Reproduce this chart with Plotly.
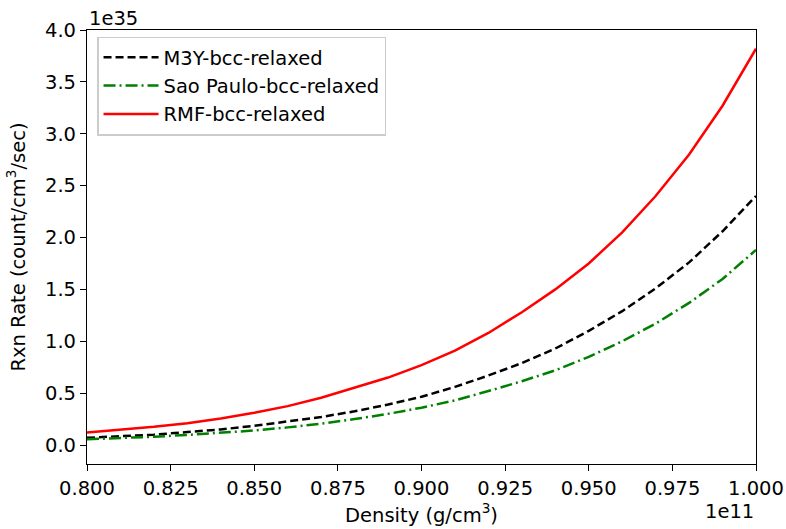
import plotly.graph_objects as go

# Density in units of 1e11 g/cm^3
density = [0.80, 0.81, 0.82, 0.83, 0.84, 0.85, 0.86, 0.87, 0.88, 0.89, 0.90,
           0.91, 0.92, 0.93, 0.94, 0.95, 0.96, 0.97, 0.98, 0.99, 1.00]
# Reaction rates in units of 1e35 count/cm^3/sec
m3y = [0.07, 0.085, 0.10, 0.125, 0.15, 0.185, 0.225, 0.27, 0.325, 0.39, 0.465,
       0.56, 0.67, 0.79, 0.93, 1.10, 1.29, 1.51, 1.76, 2.06, 2.40]
sao_paulo = [0.055, 0.066, 0.08, 0.097, 0.117, 0.14, 0.17, 0.205, 0.25, 0.30, 0.36,
             0.43, 0.52, 0.615, 0.72, 0.85, 1.0, 1.17, 1.37, 1.60, 1.88]
rmf = [0.12, 0.145, 0.175, 0.21, 0.255, 0.31, 0.375, 0.455, 0.55, 0.65, 0.77,
       0.91, 1.08, 1.28, 1.50, 1.75, 2.05, 2.40, 2.80, 3.27, 3.82]

x_ticks = [0.800, 0.825, 0.850, 0.875, 0.900, 0.925, 0.950, 0.975, 1.000]
x_tick_labels = ["0.800", "0.825", "0.850", "0.875", "0.900", "0.925", "0.950", "0.975", "1.000"]
y_ticks = [0.0, 0.5, 1.0, 1.5, 2.0, 2.5, 3.0, 3.5, 4.0]
y_tick_labels = ["0.0", "0.5", "1.0", "1.5", "2.0", "2.5", "3.0", "3.5", "4.0"]

FONT = "DejaVu Sans"
FS = 19.5

fig = go.Figure()
fig.add_trace(go.Scatter(x=density, y=m3y, mode="lines", name="M3Y-bcc-relaxed",
                         line=dict(color="black", width=2.5, dash="8px,4px")))
fig.add_trace(go.Scatter(x=density, y=sao_paulo, mode="lines", name="Sao Paulo-bcc-relaxed",
                         line=dict(color="green", width=2.5, dash="12px,4px,2px,4px")))
fig.add_trace(go.Scatter(x=density, y=rmf, mode="lines", name="RMF-bcc-relaxed",
                         line=dict(color="red", width=2.5)))

axis_common = dict(showline=True, linecolor="black", linewidth=1.2, mirror=True,
                   ticks="outside", ticklen=6, tickwidth=1.2, tickcolor="black",
                   showgrid=False, zeroline=False, automargin=False,
                   tickfont=dict(family=FONT, size=FS, color="black"))

fig.update_xaxes(range=[0.8, 1.0], tickvals=x_ticks, ticktext=x_tick_labels,
                 title=dict(text="Density (g/cm<sup>3</sup>)", standoff=9,
                            font=dict(family=FONT, size=FS, color="black")),
                 **axis_common)
fig.update_yaxes(range=[-0.183, 4.0], tickvals=y_ticks, ticktext=y_tick_labels,
                 title=dict(text="Rxn Rate (count/cm<sup>3</sup>/sec)", standoff=14,
                            font=dict(family=FONT, size=FS, color="black")),
                 **axis_common)

fig.add_annotation(text="1e35", xref="paper", yref="paper", x=0, y=1,
                   xanchor="left", yanchor="bottom", showarrow=False, yshift=-2,
                   font=dict(family=FONT, size=FS, color="black"))
fig.add_annotation(text="1e11", xref="paper", yref="paper", x=1, y=0,
                   xanchor="right", yanchor="top", showarrow=False, yshift=-34,
                   font=dict(family=FONT, size=FS, color="black"))

fig.update_layout(
    template="none",
    width=786, height=529,
    margin=dict(l=87, r=30, t=30, b=65),
    paper_bgcolor="white", plot_bgcolor="white",
    font=dict(family=FONT, size=FS, color="black"),
    showlegend=True,
    legend=dict(x=0.015, y=0.985, xanchor="left", yanchor="top",
                bgcolor="rgba(255,255,255,0.8)", bordercolor="#cccccc", borderwidth=1.5,
                font=dict(family=FONT, size=FS, color="black"),
                itemwidth=55, tracegroupgap=0),
)

fig.write_html("out.html")
